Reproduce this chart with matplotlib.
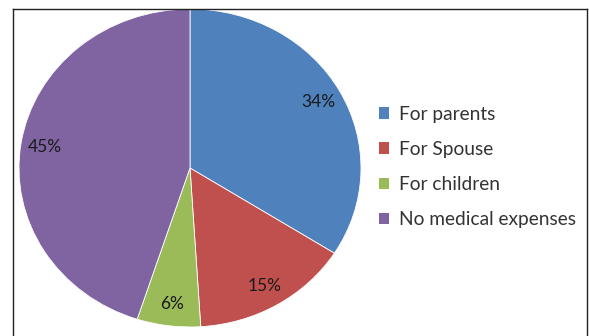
import matplotlib
matplotlib.use("Agg")
import matplotlib.pyplot as plt
from matplotlib.lines import Line2D
from matplotlib.patches import Patch

categories = ["For parents", "For Spouse", "For children", "No medical expenses"]
values = [34, 15, 6, 45]
colors = ["#4F81BD", "#C0504D", "#9BBB59", "#8064A2"]

plt.rcParams['font.family'] = ['Lato', 'DejaVu Sans']

W, H = 589, 336
fig = plt.figure(figsize=(W / 100, H / 100), dpi=100)

ax = fig.add_axes([19 / W, 1 - 327 / H, 342 / W, 318 / H])
wedges, texts, autotexts = ax.pie(
    values, colors=colors, startangle=90, counterclock=False,
    autopct=lambda p: f"{p:.0f}%", pctdistance=0.86,
    wedgeprops=dict(edgecolor="white", linewidth=0.6),
    textprops=dict(fontsize=12.5, color="#1a1a1a"))
ax.set_aspect("auto")
ax.set_xlim(-1, 1)
ax.set_ylim(-1, 1)

handles = [Patch(facecolor=c, edgecolor="none") for c in colors]
fig.legend(handles, categories, loc="center left",
           bbox_to_anchor=(369 / W, 1 - 167 / H), frameon=False,
           fontsize=13.8, handlelength=0.55, handleheight=0.55,
           handletextpad=0.5, labelspacing=0.95, borderpad=0,
           labelcolor="#333333")

# chart border (top, left, right)
lc = "#222222"
x0, x1, yt = 12.5 / W, 586.5 / W, 1 - 8.5 / H
fig.add_artist(Line2D([x0, x1], [yt, yt], color=lc, lw=1.0, transform=fig.transFigure))
fig.add_artist(Line2D([x0, x0], [0, yt], color=lc, lw=1.0, transform=fig.transFigure))
fig.add_artist(Line2D([x1, x1], [0, yt], color=lc, lw=1.0, transform=fig.transFigure))

fig.savefig("out.png", dpi=100)
